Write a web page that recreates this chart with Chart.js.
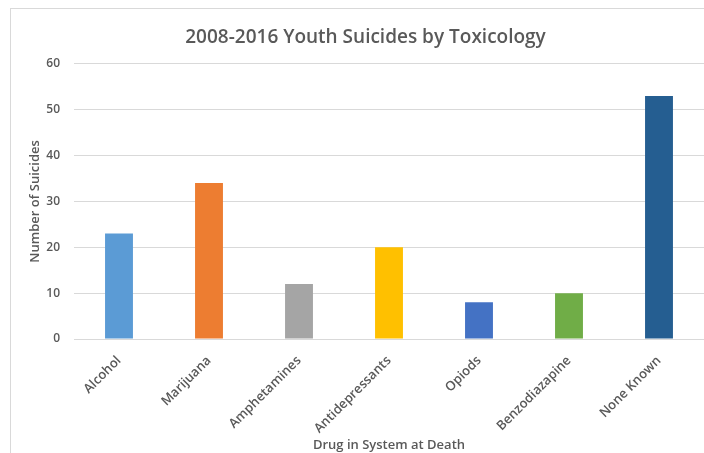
<!DOCTYPE html>
<html>
<head>
<meta charset="utf-8">
<title>Youth Suicides by Toxicology</title>
<script src="https://cdn.jsdelivr.net/npm/chart.js@4"></script>
<style>
    body { margin: 0; background: #fff; }
    #frame { position: absolute; left: 10px; top: 8px; width: 720px; height: 460px; border-left: 1px solid #d9d9d9; border-top: 1px solid #d9d9d9; }
    #wrap { position: absolute; left: 0; top: 0; width: 704px; height: 453px; }
</style>
</head>
<body>
<div id="frame"></div>
<div id="wrap"><canvas id="chart" width="704" height="453"></canvas></div>
<script>
// chart data
let drugs = ["Alcohol", "Marijuana", "Amphetamines", "Antidepressants", "Opiods", "Benzodiazapine", "None Known"];
let suicides = [23, 34, 12, 20, 8, 10, 53];
let barColors = ["#5b9bd5", "#ed7d31", "#a5a5a5", "#ffc000", "#4472c4", "#70ad47", "#255e91"];
let yTicks = [0, 10, 20, 30, 40, 50, 60];

let textColor = "#595959";
let fontFamily = "'Open Sans', Lato, sans-serif";

let theChart = new Chart(document.getElementById("chart"), {
    type: 'bar',
    data: {
        labels: drugs,
        datasets: [
            {
                label: "Number of Suicides",
                backgroundColor: barColors,
                data: suicides,
                barPercentage: 0.62,
                categoryPercentage: 0.5
            }
        ]
    },
    options: {
        responsive: false,
        animation: false,
        layout: { padding: { left: 27, right: 0, top: 0, bottom: 0 } },
        plugins: {
            legend: { display: false },
            tooltip: { enabled: false },
            title: {
                display: true,
                text: '2008-2016 Youth Suicides by Toxicology',
                color: textColor,
                font: { family: fontFamily, size: 19, weight: '600' },
                padding: { top: 26, bottom: 15 }
            }
        },
        scales: {
            y: {
                min: 0,
                max: 60,
                afterBuildTicks: axis => { axis.ticks = yTicks.map(v => ({ value: v })) },
                afterFit: axis => { axis.width = 47 },
                border: { display: false },
                grid: { color: "#d9d9d9", drawTicks: false },
                ticks: { color: textColor, padding: 14, font: { family: fontFamily, size: 12, weight: '600' } },
                title: {
                    display: true,
                    text: 'Number of Suicides',
                    color: textColor,
                    font: { family: fontFamily, size: 13, weight: '600' },
                    padding: { top: 0, bottom: 4 }
                }
            },
            x: {
                afterFit: axis => { axis.height = 114 },
                border: { color: "#d9d9d9" },
                grid: { display: false },
                ticks: {
                    color: textColor,
                    minRotation: 45,
                    maxRotation: 45,
                    padding: 6,
                    font: { family: fontFamily, size: 13, weight: '600' }
                },
                title: {
                    display: true,
                    text: 'Drug in System at Death',
                    color: textColor,
                    font: { family: fontFamily, size: 13, weight: '600' },
                    padding: { top: 0, bottom: 0 }
                }
            }
        }
    }
});
</script>
</body>
</html>
